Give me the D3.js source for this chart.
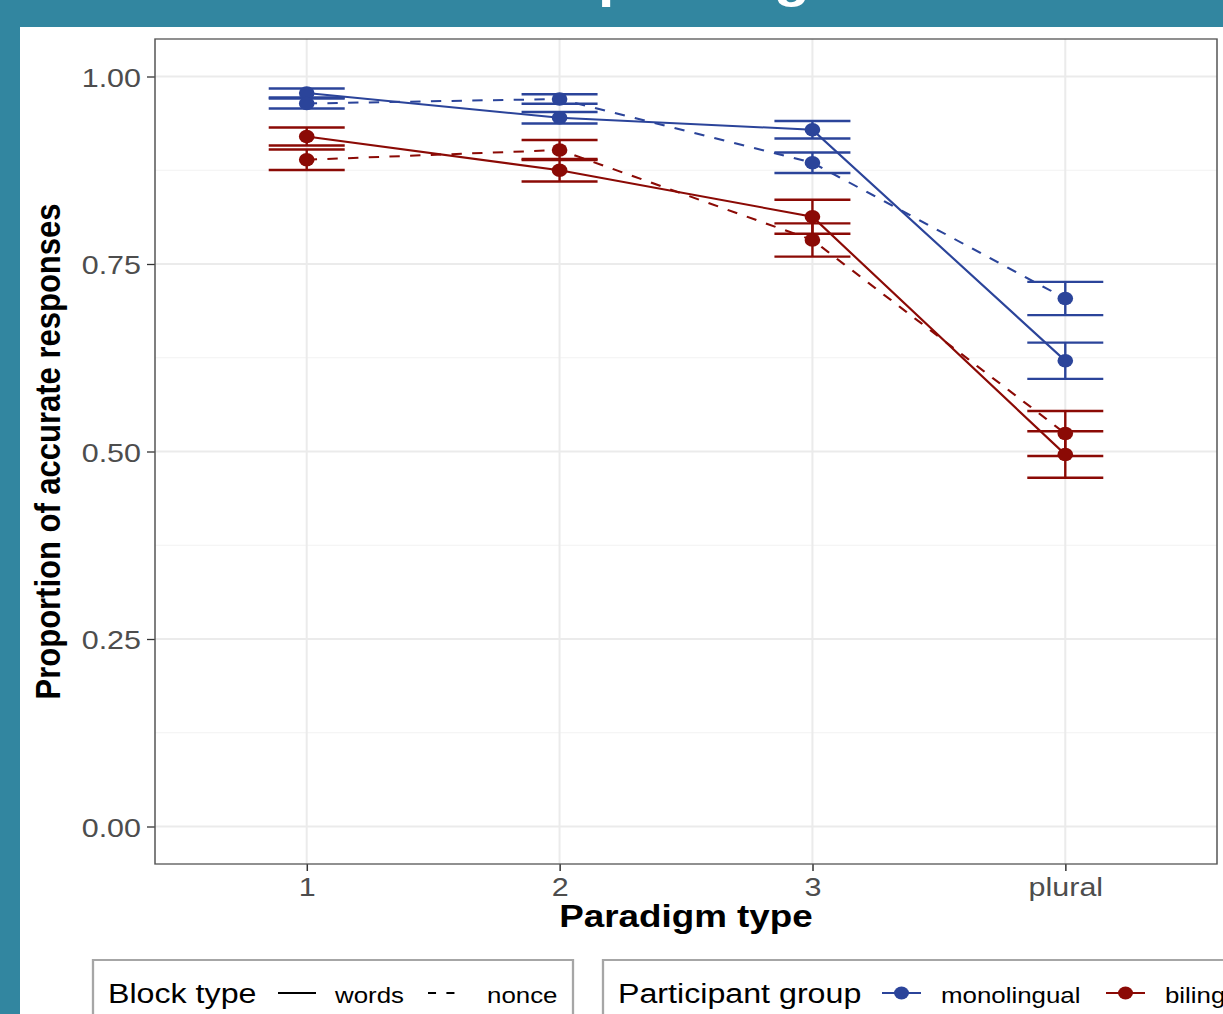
<!DOCTYPE html>
<html lang="en">
<head>
    <meta charset="UTF-8">
    <title>Accuracy by paradigm type</title>
    <style>
        body { margin: 0; background: #fff; }
        svg { display: block; }
        text { font-family: "Liberation Sans", Arial, sans-serif; }
        .tick text { fill: #4d4d4d; }
        .tick line { stroke: #333; stroke-width: 1.3px; }
    </style>
    <script src="https://d3js.org/d3.v7.min.js"></script>
</head>
<body>
    <script>
        // values
        const categories = ["1", "2", "3", "plural"];
        const monoWords = [0.978, 0.945, 0.929, 0.621];
        const monoWordsSE = [0.006, 0.0077, 0.0117, 0.0242];
        const monoNonce = [0.964, 0.970, 0.885, 0.704];
        const monoNonceSE = [0.0067, 0.0063, 0.0136, 0.0222];
        const bilWords = [0.920, 0.875, 0.813, 0.496];
        const bilWordsSE = [0.012, 0.015, 0.0226, 0.031];
        const bilNonce = [0.889, 0.902, 0.782, 0.524];
        const bilNonceSE = [0.0137, 0.0133, 0.0222, 0.030];
        const yTicks = [0, 0.25, 0.5, 0.75, 1];
        const yMinor = [0.125, 0.375, 0.625, 0.875];

        const blue = "#2b449a", red = "#8b0a05";
        const series = [
            { group: "monolingual", block: "words", vals: monoWords, se: monoWordsSE, color: blue },
            { group: "monolingual", block: "nonce", vals: monoNonce, se: monoNonceSE, color: blue },
            { group: "bilingual", block: "words", vals: bilWords, se: bilWordsSE, color: red },
            { group: "bilingual", block: "nonce", vals: bilNonce, se: bilNonceSE, color: red }
        ];

        // the screenshot is stretched sideways, so draw in narrower units and scale x
        const sx = 1.15;
        const I = v => v / sx;

        const svg = d3.select("body").append("svg")
            .attr("width", 1223).attr("height", 1014);

        svg.append("rect").attr("width", 1223).attr("height", 1014).attr("fill", "#3286a0");
        svg.append("rect").attr("x", 20).attr("y", 27).attr("width", 1203).attr("height", 987).attr("fill", "#fff");

        const g = svg.append("g").attr("transform", `scale(${sx},1)`);

        // slide title, only its descenders poke out of the band
        const title = g.append("text")
            .attr("y", -4)
            .attr("font-family", "'Open Sans', sans-serif")
            .attr("font-weight", 600)
            .attr("font-size", 51)
            .attr("fill", "#fff")
            .text("Across paradigms");
        const pIdx = title.text().indexOf("p");
        const pStart = title.node().getStartPositionOfChar(pIdx).x;
        title.attr("x", I(598) - pStart);

        const panel = { left: I(155), right: I(1217), top: 39, bottom: 864 };

        const x = d3.scalePoint().domain(categories)
            .range([panel.left, panel.right]).padding(0.6);
        const y = d3.scaleLinear().domain([-0.05, 1.05])
            .range([panel.bottom, panel.top]);

        // grid
        g.append("g").selectAll("line").data(yMinor).join("line")
            .attr("x1", panel.left).attr("x2", panel.right)
            .attr("y1", d => y(d)).attr("y2", d => y(d))
            .attr("stroke", "#f2f2f2").attr("stroke-width", 1);
        g.append("g").selectAll("line").data(yTicks).join("line")
            .attr("x1", panel.left).attr("x2", panel.right)
            .attr("y1", d => y(d)).attr("y2", d => y(d))
            .attr("stroke", "#ebebeb").attr("stroke-width", 2);
        g.append("g").selectAll("line").data(categories).join("line")
            .attr("x1", d => x(d)).attr("x2", d => x(d))
            .attr("y1", panel.top).attr("y2", panel.bottom)
            .attr("stroke", "#ebebeb").attr("stroke-width", 2 / sx);

        // axes
        const yAxis = g.append("g").attr("transform", `translate(${panel.left},0)`)
            .call(d3.axisLeft(y).tickValues(yTicks).tickFormat(d3.format(".2f"))
                .tickSize(I(8)).tickPadding(I(6)));
        yAxis.select(".domain").remove();
        yAxis.selectAll(".tick text").attr("font-size", 26.5).attr("dy", "0.36em");

        const xAxis = g.append("g").attr("transform", `translate(0,${panel.bottom})`)
            .call(d3.axisBottom(x).tickSize(7).tickPadding(6));
        xAxis.select(".domain").remove();
        xAxis.selectAll(".tick line").attr("stroke-width", 1.3 / sx);
        xAxis.selectAll(".tick text").attr("font-size", 26.5);

        g.append("rect")
            .attr("x", panel.left).attr("y", panel.top)
            .attr("width", panel.right - panel.left).attr("height", panel.bottom - panel.top)
            .attr("fill", "none").attr("stroke", "#555").attr("stroke-width", 1.3);

        // axis titles
        g.append("text")
            .attr("transform", `translate(${I(60)},${y(0.5)}) rotate(-90)`)
            .attr("text-anchor", "middle")
            .attr("font-size", 31).attr("font-weight", "bold").attr("fill", "#000")
            .text("Proportion of accurate responses");
        g.append("text")
            .attr("x", (panel.left + panel.right) / 2).attr("y", 927)
            .attr("text-anchor", "middle")
            .attr("font-size", 32).attr("font-weight", "bold").attr("fill", "#000")
            .text("Paradigm type");

        // lines
        const line = d3.line().x((d, i) => x(categories[i])).y(d => y(d));
        g.append("g").selectAll("path").data(series).join("path")
            .attr("d", d => line(d.vals))
            .attr("fill", "none")
            .attr("stroke", d => d.color)
            .attr("stroke-width", 2)
            .attr("stroke-dasharray", d => d.block === "nonce" ? "9,9" : null);

        // error bars
        const capHalf = I(38);
        const bars = g.append("g").selectAll("g").data(series).join("g")
            .attr("stroke", d => d.color).attr("stroke-width", 2.4);
        bars.each(function (s) {
            const sel = d3.select(this);
            s.vals.forEach((v, i) => {
                const cx = x(categories[i]);
                const lo = y(v - s.se[i]), hi = y(v + s.se[i]);
                sel.append("line").attr("x1", cx).attr("x2", cx).attr("y1", lo).attr("y2", hi)
                    .attr("stroke-width", 2.4 / sx);
                sel.append("line").attr("x1", cx - capHalf).attr("x2", cx + capHalf).attr("y1", lo).attr("y2", lo);
                sel.append("line").attr("x1", cx - capHalf).attr("x2", cx + capHalf).attr("y1", hi).attr("y2", hi);
            });
        });

        // points
        g.append("g").selectAll("g").data(series).join("g")
            .attr("fill", d => d.color)
            .selectAll("circle").data(d => d.vals).join("circle")
            .attr("cx", (d, i) => x(categories[i]))
            .attr("cy", d => y(d))
            .attr("r", 6.8);

        // legends
        const legY = 1003, keyY = 993;
        const leg = g.append("g");
        leg.append("rect").attr("x", I(93)).attr("y", 960).attr("width", I(480)).attr("height", 80)
            .attr("fill", "#fff").attr("stroke", "#a6a6a6").attr("stroke-width", 2);
        leg.append("rect").attr("x", I(603)).attr("y", 960).attr("width", I(700)).attr("height", 80)
            .attr("fill", "#fff").attr("stroke", "#a6a6a6").attr("stroke-width", 2);

        const legText = (xi, t, size) => leg.append("text")
            .attr("x", I(xi)).attr("y", legY).attr("font-size", size).attr("fill", "#000").text(t);

        legText(108, "Block type", 28);
        leg.append("line").attr("x1", I(278)).attr("x2", I(316)).attr("y1", keyY).attr("y2", keyY)
            .attr("stroke", "#000").attr("stroke-width", 2);
        legText(335, "words", 22.5);
        leg.append("line").attr("x1", I(428)).attr("x2", I(464)).attr("y1", keyY).attr("y2", keyY)
            .attr("stroke", "#000").attr("stroke-width", 2).attr("stroke-dasharray", "7,9");
        legText(487, "nonce", 22.5);

        legText(618, "Participant group", 28);
        const groupKeys = [
            { x0: 882, label: "monolingual", lx: 941, color: blue },
            { x0: 1106, label: "bilingual", lx: 1165, color: red }
        ];
        groupKeys.forEach(k => {
            leg.append("line").attr("x1", I(k.x0)).attr("x2", I(k.x0 + 39)).attr("y1", keyY).attr("y2", keyY)
                .attr("stroke", k.color).attr("stroke-width", 2);
            leg.append("circle").attr("cx", I(k.x0 + 19.5)).attr("cy", keyY).attr("r", 6.5).attr("fill", k.color);
            legText(k.lx, k.label, 22.5);
        });
    </script>
</body>
</html>
